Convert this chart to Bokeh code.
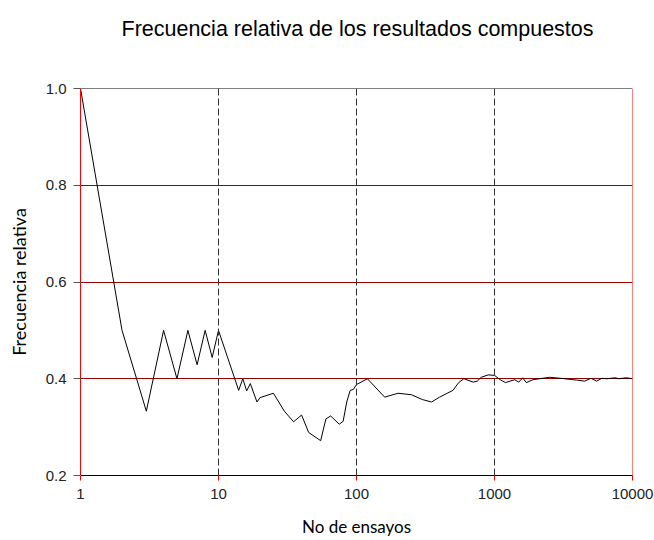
from bokeh.plotting import figure
from bokeh.models import Span, FixedTicker, NumeralTickFormatter, Range1d, Title
from bokeh.embed import file_html
from bokeh.resources import INLINE

ensayos = [1, 2, 3, 4, 5, 6, 7, 8, 9, 10,
           14, 15, 16, 17, 19, 20, 25, 30, 35, 40, 45,
           55, 60, 65, 75, 80, 85, 90, 95, 100,
           120, 160, 200, 250, 300, 350, 400,
           500, 550, 600, 700, 750, 800, 900, 1000,
           1100, 1200, 1400, 1500, 1600, 1700, 1900,
           2500, 3000, 4000, 4500, 5000, 5500, 6000, 6500, 7500, 8000, 9000, 10000]
frecuencia = [1.0, 0.5, 0.333, 0.5, 0.4, 0.5, 0.429, 0.5, 0.444, 0.5,
              0.376, 0.4, 0.375, 0.39, 0.352, 0.361, 0.37, 0.333, 0.311, 0.325, 0.289,
              0.272, 0.317, 0.323, 0.306, 0.312, 0.352, 0.376, 0.378, 0.388,
              0.4, 0.362, 0.37, 0.367, 0.357, 0.352, 0.362,
              0.376, 0.392, 0.4, 0.393, 0.395, 0.403, 0.408, 0.407,
              0.398, 0.392, 0.398, 0.393, 0.402, 0.392, 0.398,
              0.403, 0.401, 0.397, 0.395, 0.401, 0.395, 0.401, 0.4, 0.402, 0.4, 0.402, 0.4]

x_ticks = [1, 10, 100, 1000, 10000]
y_ticks = [0.2, 0.4, 0.6, 0.8, 1.0]
grid_y = [0.4, 0.6, 0.8]
dashed_x = [10, 100, 1000]

titulo = "Frecuencia relativa de los resultados compuestos"
etiqueta_x = "No de ensayos"
etiqueta_y = "Frecuencia relativa"

p = figure(width=654, height=540, x_axis_type="log",
           x_range=Range1d(1, 10000), y_range=Range1d(0.2, 1.0),
           output_backend="svg", toolbar_location=None,
           min_border_left=80, min_border_right=22, min_border_top=88, min_border_bottom=65)

p.outline_line_color = None
p.background_fill_color = "white"
p.border_fill_color = "white"

# title (outermost) + invisible spacer below it
p.title.text = titulo
p.title.text_font = "Liberation Sans"
p.title.text_font_size = "21.5px"
p.title.text_font_style = "normal"
p.title.text_color = "#000000"
p.title.align = "left"
p.title.offset = 41
p.title.standoff = 10
p.add_layout(Title(text=" ", text_font_size="10px", standoff=30), "above")

# grid
p.xgrid.grid_line_color = None
p.ygrid.ticker = FixedTicker(ticks=grid_y)
p.ygrid.grid_line_color = "#990000"
p.ygrid.grid_line_width = 1

# axes
p.xaxis.ticker = FixedTicker(ticks=x_ticks)
p.xaxis.formatter = NumeralTickFormatter(format="0")
p.xaxis.axis_line_color = "black"
p.xaxis.major_tick_line_color = "red"
p.xaxis.major_tick_out = 5
p.xaxis.major_tick_in = 0
p.xaxis.minor_tick_line_color = None
p.xaxis.major_label_standoff = 8
p.xaxis.axis_label = etiqueta_x
p.xaxis.axis_label_standoff = 14

p.yaxis.ticker = FixedTicker(ticks=y_ticks)
p.yaxis.formatter = NumeralTickFormatter(format="0.0")
p.yaxis.axis_line_color = "red"
p.yaxis.major_tick_line_color = "#555555"
p.yaxis.major_tick_out = 7
p.yaxis.major_tick_in = 0
p.yaxis.minor_tick_line_color = None
p.yaxis.major_label_standoff = 7
p.yaxis.axis_label = etiqueta_y
p.yaxis.axis_label_standoff = 13

for ax in (p.xaxis[0], p.yaxis[0]):
    ax.major_label_text_font = "Liberation Sans"
    ax.major_label_text_font_size = "15px"
    ax.major_label_text_color = "#222222"
    ax.axis_label_text_font = "Lato"
    ax.axis_label_text_font_style = "normal"
    ax.axis_label_text_color = "#000000"
p.xaxis.axis_label_text_font_size = "17px"
p.yaxis.axis_label_text_font_size = "18px"

# borders
p.add_layout(Span(location=1.0, dimension="width", line_color="black", line_width=1))
p.add_layout(Span(location=10000, dimension="height", line_color="red", line_width=1))
for xv in dashed_x:
    p.add_layout(Span(location=xv, dimension="height", line_color="#333333",
                      line_width=1, line_dash="7 3"))

p.line(ensayos, frecuencia, line_color="black", line_width=1)

open("out.html", "w").write(file_html(p, INLINE))
